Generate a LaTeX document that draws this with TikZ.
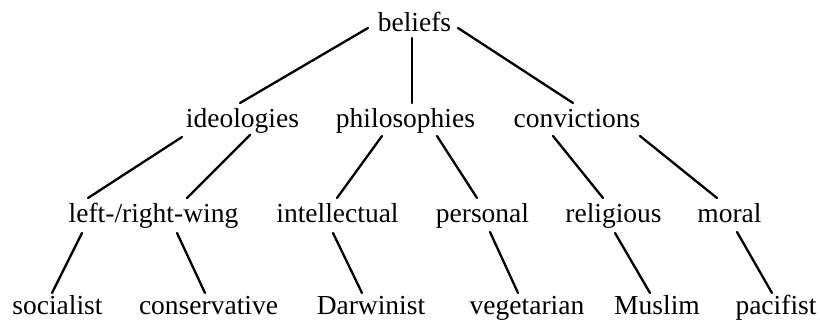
\documentclass[tikz,border=0pt]{standalone}
\usepackage{fontspec}
\setmainfont{Liberation Serif}
\usetikzlibrary{calc}
\begin{document}
\begin{tikzpicture}[x=1pt,y=-1pt,
  word/.style={anchor=base,inner sep=0pt,font=\fontsize{27.5}{33}\selectfont},
  edge/.style={line width=2.3pt,line cap=round}]
\useasboundingbox (0,0) rectangle (820,323);
% level 1
\node[word] (beliefs) at (414.5,32) {beliefs};
% level 2
\node[word] (ideol) at (242.5,128) {ideologies};
\node[word] (philo) at (405.5,128) {philosophies};
\node[word] (convi) at (577,128) {convictions};
% level 3
\node[word] (lr) at (153.5,223) {left-/right-wing};
\node[word] (intel) at (337.5,223) {intellectual};
\node[word] (pers) at (482.5,223) {personal};
\node[word] (relig) at (613.5,223) {religious};
\node[word] (moral) at (729.5,223) {moral};
% level 4
\node[word] (soc) at (57.5,315) {socialist};
\node[word] (cons) at (208.5,315) {conservative};
\node[word] (darw) at (371,315) {Darwinist};
\node[word] (veg) at (527,315) {vegetarian};
\node[word] (musl) at (657,315) {Muslim};
\node[word] (paci) at (776,315) {pacifist};
% connectors
\draw[edge] ($(beliefs.base)+(-46.5,-4)$) -- ($(ideol.base)+(-2.5,-25)$);
\draw[edge] ($(beliefs.base)+(-2.5,6)$) -- ($(philo.base)+(6.5,-25)$);
\draw[edge] ($(beliefs.base)+(43.5,-4)$) -- ($(convi.base)+(-4,-25)$);
\draw[edge] ($(ideol.base)+(-60.5,9)$) -- ($(lr.base)+(-65.5,-25)$);
\draw[edge] ($(ideol.base)+(7.5,7)$) -- ($(lr.base)+(33.5,-25)$);
\draw[edge] ($(philo.base)+(-23.5,8)$) -- ($(intel.base)+(-0.5,-25)$);
\draw[edge] ($(philo.base)+(31.5,8)$) -- ($(pers.base)+(-5.5,-25)$);
\draw[edge] ($(convi.base)+(-24,8)$) -- ($(relig.base)+(-10.5,-25)$);
\draw[edge] ($(convi.base)+(63,8)$) -- ($(moral.base)+(-12.5,-25)$);
\draw[edge] ($(lr.base)+(-71.5,10)$) -- ($(soc.base)+(-5.5,-22)$);
\draw[edge] ($(lr.base)+(23.5,10)$) -- ($(cons.base)+(-3.5,-22)$);
\draw[edge] ($(intel.base)+(-4.5,10)$) -- ($(darw.base)+(-9,-22)$);
\draw[edge] ($(pers.base)+(7.5,9)$) -- ($(veg.base)+(-9,-22)$);
\draw[edge] ($(relig.base)+(1.5,10)$) -- ($(musl.base)+(-7,-22)$);
\draw[edge] ($(moral.base)+(7.5,9)$) -- ($(paci.base)+(-4,-22)$);
\end{tikzpicture}
\end{document}
